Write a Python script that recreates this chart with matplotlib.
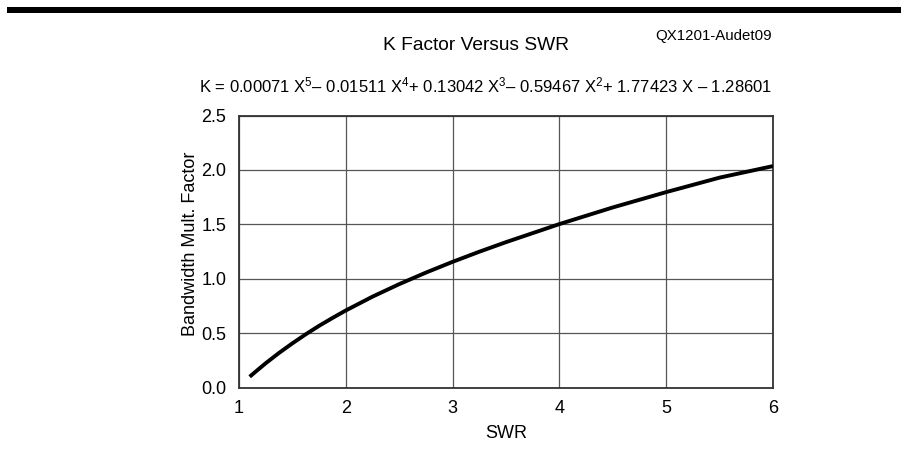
import matplotlib
matplotlib.use("Agg")
import matplotlib.pyplot as plt
from matplotlib.patches import Rectangle

plt.rcParams['font.family'] = ['Liberation Sans', 'DejaVu Sans']
plt.rcParams['mathtext.fontset'] = 'custom'
plt.rcParams['mathtext.rm'] = 'Liberation Sans'
plt.rcParams['mathtext.it'] = 'Liberation Sans'

# Curve values
swr = [1.1, 1.15, 1.25, 1.375, 1.5, 1.625, 1.75, 1.875, 2.0, 2.25, 2.5, 2.75,
       3.0, 3.25, 3.5, 4.0, 4.5, 5.0, 5.5, 6.0]
k_factor = [0.099, 0.141, 0.223, 0.318, 0.406, 0.489, 0.567, 0.639, 0.708, 0.835,
            0.950, 1.056, 1.155, 1.248, 1.336, 1.502, 1.655, 1.796, 1.929, 2.035]
x_ticks = [1, 2, 3, 4, 5, 6]
y_ticks = [0.0, 0.5, 1.0, 1.5, 2.0, 2.5]

fig = plt.figure(figsize=(9.01, 4.74), dpi=100)
ax = fig.add_axes([239/901, 1-387.5/474, (773-239)/901, (387.5-115.5)/474])

ax.plot(swr, k_factor, color='black', lw=2.8, solid_capstyle='butt',
        solid_joinstyle='round', zorder=3)
ax.set_xlim(1, 6)
ax.set_ylim(0, 2.5)
ax.set_xticks(x_ticks)
ax.set_yticks(y_ticks)
ax.set_xticklabels([str(v) for v in x_ticks])
ax.set_yticklabels([f"{v:.1f}" for v in y_ticks])
ax.tick_params(length=0, labelsize=13, pad=9)
ax.grid(True, color='#555555', lw=0.9)
for s in ax.spines.values():
    s.set_color('#333333')
    s.set_linewidth(1.3)
ax.set_xlabel('SWR', fontsize=13, labelpad=6)
ax.set_ylabel('Bandwidth Mult. Factor', fontsize=13, va='center')
ax.yaxis.set_label_coords(-0.0899, 0.5276)

fig.text(476/901, 1-46/474, 'K Factor Versus SWR', ha='center', va='center', fontsize=13.8)
fig.text(772/901, 1-36/474, 'QX1201-Audet09', ha='right', va='center', fontsize=10.8)
eq = (r"K = 0.00071 X$^5$– 0.01511 X$^4$+ 0.13042 X$^3$– 0.59467 X$^2$+ 1.77423 X – 1.28601")
fig.text(486/901, 1-85/474, eq, ha='center', va='center', fontsize=12)

fig.add_artist(Rectangle((7/901, 1-12.5/474), 1-7/901, 5.8/474, transform=fig.transFigure,
                         facecolor='black', edgecolor='none'))

fig.savefig('out.png', dpi=100)
